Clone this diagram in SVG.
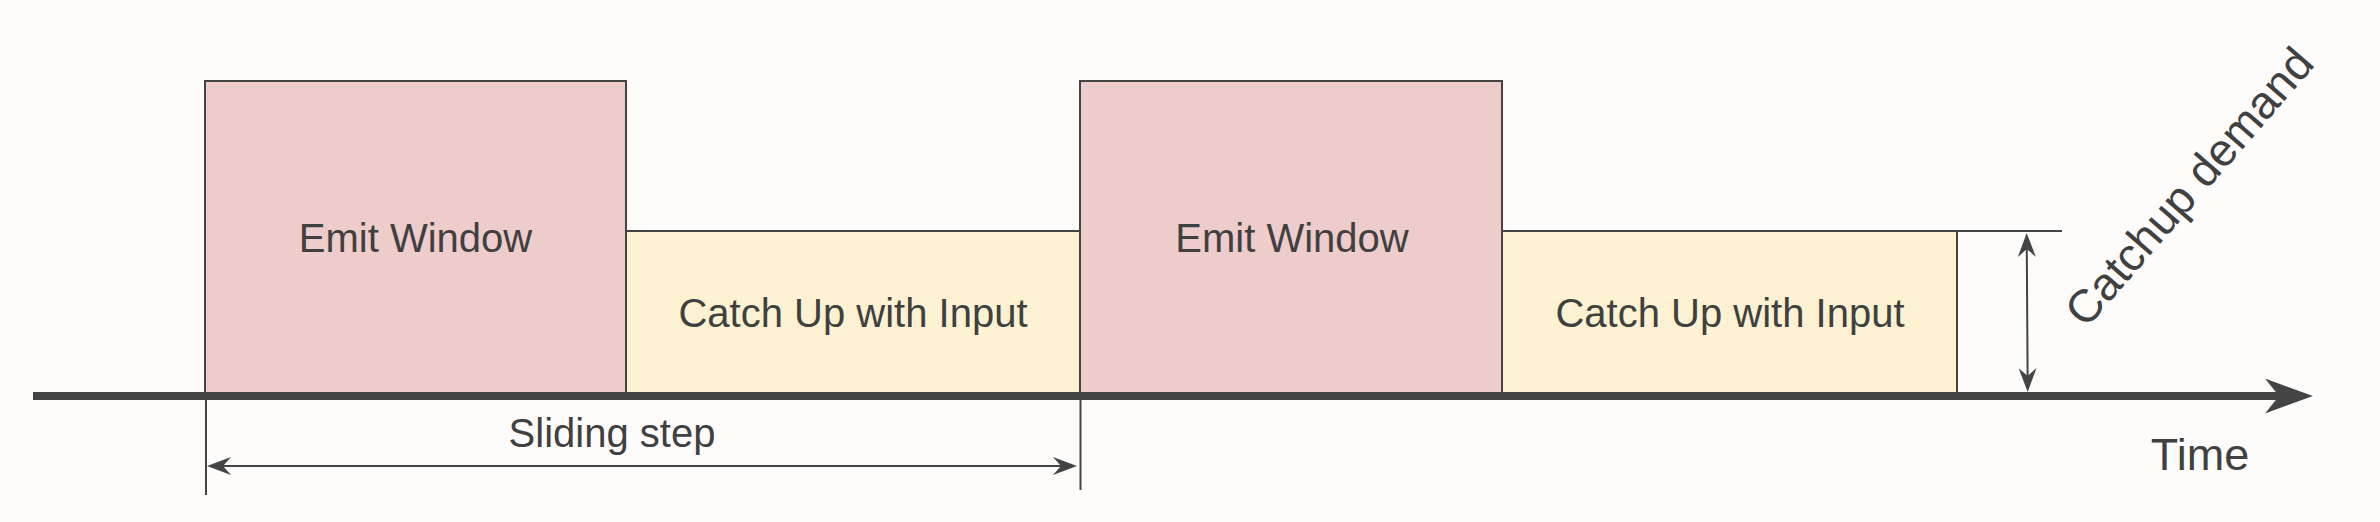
<svg xmlns="http://www.w3.org/2000/svg" width="2380" height="522" viewBox="0 0 2380 522">
  <style>
    .emit { fill: #eecccc; stroke: #444444; stroke-width: 2; }
    .catch { fill: #fcf2d2; stroke: #444444; stroke-width: 2; }
    .lbl { font-family: "Liberation Sans", Arial, sans-serif; font-size: 40px; fill: #404040; text-anchor: middle; }
    .thin { stroke: #444444; stroke-width: 2; fill: none; }
    .axis { stroke: #444444; stroke-width: 8; fill: none; }
  </style>
  <defs>
    <marker id="ah" viewBox="0 0 24 18" refX="8" refY="9" markerWidth="24" markerHeight="18" markerUnits="userSpaceOnUse" orient="auto-start-reverse">
      <path d="M0,0 L24,9 L0,18 L8,9 Z" fill="#444444"/>
    </marker>
    <marker id="bigah" viewBox="0 0 48 35" refX="14" refY="17.5" markerWidth="48" markerHeight="35" markerUnits="userSpaceOnUse" orient="auto">
      <path d="M0,0 L48,17.5 L0,35 L14,17.5 Z" fill="#444444"/>
    </marker>
  </defs>
  <rect x="0" y="0" width="2380" height="522" fill="#fdfcfa"/>

  <g id="emit1">
    <rect class="emit" x="205" y="81" width="421" height="312"/>
    <text class="lbl" x="415.5" y="251.5">Emit Window</text>
  </g>
  <g id="catch1">
    <rect class="catch" x="626" y="231" width="454" height="162"/>
    <text class="lbl" x="853" y="327">Catch Up with Input</text>
  </g>
  <g id="emit2">
    <rect class="emit" x="1080" y="81" width="422" height="312"/>
    <text class="lbl" x="1292" y="251.5">Emit Window</text>
  </g>
  <g id="catch2">
    <rect class="catch" x="1502" y="231" width="455" height="162"/>
    <text class="lbl" x="1730" y="327">Catch Up with Input</text>
  </g>

  <g id="connectors">
    <line class="axis" x1="33" y1="396" x2="2279" y2="396" marker-end="url(#bigah)"/>
    <line class="thin" x1="206" y1="400" x2="206" y2="495"/>
    <line class="thin" x1="1080.5" y1="400" x2="1080.5" y2="490"/>
    <line class="thin" x1="223" y1="466" x2="1061" y2="466" marker-start="url(#ah)" marker-end="url(#ah)"/>
    <line class="thin" x1="1957" y1="231" x2="2062" y2="231"/>
    <line class="thin" x1="2026.8" y1="249" x2="2027.6" y2="376" marker-start="url(#ah)" marker-end="url(#ah)"/>
  </g>

  <g id="labels">
    <text class="lbl" x="612" y="447">Sliding step</text>
    <text class="lbl" x="2200" y="470" style="font-size:45px">Time</text>
    <text class="lbl" x="2201" y="197" style="font-size:46px" transform="rotate(-49 2201 197)">Catchup demand</text>
  </g>
</svg>
